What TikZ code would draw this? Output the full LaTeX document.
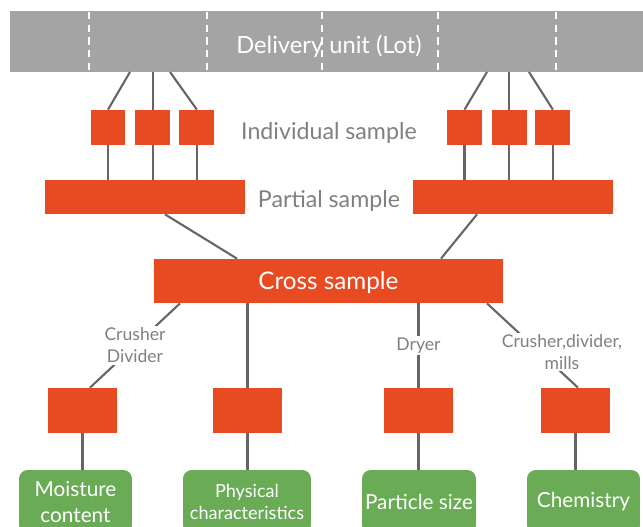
\documentclass[tikz,border=0pt]{standalone}
\usepackage{fontspec}
\setmainfont{Lato}
\usetikzlibrary{positioning}

\definecolor{sampleRed}{HTML}{E84A22}
\definecolor{lotGrey}{HTML}{A4A4A4}
\definecolor{wireGrey}{HTML}{666666}
\definecolor{labelGrey}{HTML}{808080}
\definecolor{testGreen}{HTML}{6AAB56}

\tikzset{
  sample/.style={rectangle, fill=sampleRed, inner sep=0pt},
  indiv/.style={sample, minimum width=0.7cm, minimum height=0.7cm},
  result/.style={sample, minimum width=1.38cm, minimum height=0.9cm},
  testbox/.style={rectangle, rounded corners=5pt, fill=testGreen, text=white, align=center, inner sep=0pt, minimum height=1.28cm},
  wire/.style={wireGrey, line width=1.2pt},
  caption/.style={text=labelGrey, text depth=0pt, font=\fontsize{13.2}{15}\selectfont},
  tool/.style={text=labelGrey, fill=white, align=center, inner sep=1pt, font=\fontsize{10}{12.5}\selectfont}
}

\begin{document}
\begin{tikzpicture}[x=0.02cm, y=-0.02cm]
    \useasboundingbox (0,0) rectangle (643,527);
    \clip (0,0) rectangle (643,527);

    % Delivery unit (lot)
    \node[rectangle, fill=lotGrey, minimum width=12.66cm, minimum height=1.22cm, inner sep=0pt] (lot) at (326.5,41.5) {};
    \foreach \x in {89,207,322,438,556}
        \draw[white, line width=1.4pt, dash pattern=on 4.2pt off 3pt] (\x,12) -- (\x,72);
    \node[text=white, text depth=0pt, font=\fontsize{13.5}{15}\selectfont] (lottext) at (329,44) {Delivery unit (Lot)};
    \foreach \x/\n in {130/a,170/c,487/d,529/f}
        \coordinate (lot-\n) at (\x,72);

    % Individual samples
    \node[indiv] (ind1) at (108,127.5) {};
    \node[indiv, right=0.18cm of ind1] (ind2) {};
    \node[indiv, right=0.17cm of ind2] (ind3) {};
    \node[indiv] (ind4) at (464.5,127.5) {};
    \node[indiv, right=0.18cm of ind4] (ind5) {};
    \node[indiv, right=0.16cm of ind5] (ind6) {};
    \node[caption] (indlabel) at (329,131) {Individual sample};

    \draw[wire] (lot-a) -- (ind1.north);
    \draw[wire] (lot.south -| ind2) -- (ind2.north);
    \draw[wire] (lot-c) -- (ind3.north);
    \draw[wire] (lot-d) -- (ind4.north);
    \draw[wire] (lot.south -| ind5) -- (ind5.north);
    \draw[wire] (lot-f) -- (ind6.north);

    % Partial samples
    \node[sample, minimum width=4cm, minimum height=0.68cm] (partL) at (145,197) {};
    \node[sample, minimum width=4cm, minimum height=0.68cm] (partR) at (513,197) {};
    \node[caption] (partlabel) at (329,199) {Partial sample};

    \foreach \i in {1,2,3}
        \draw[wire] (ind\i.south) -- (ind\i.south |- partL.north);
    \foreach \i in {4,5,6}
        \draw[wire] (ind\i.south) -- (ind\i.south |- partR.north);

    % Cross sample
    \node[sample, minimum width=6.98cm, minimum height=0.88cm, text=white, text depth=0pt, font=\fontsize{13.8}{15}\selectfont] (cross) at (328.5,281) {Cross sample};
    \draw[wire] ([xshift=0.4cm]partL.south) -- ([xshift=-1.83cm]cross.north);
    \draw[wire] ([xshift=-0.72cm]partR.south) -- ([xshift=2.25cm]cross.north);

    % Preparation
    \node[result] (moist) at (82.5,410.5) {};
    \node[result] (phys) at (247.5,410.5) {};
    \node[result] (size) at (418.5,410.5) {};
    \node[result] (chem) at (575.5,410.5) {};

    \draw[wire] ([xshift=-2.97cm]cross.south) -- node[tool] {Crusher\\Divider} ([xshift=0.15cm]moist.north);
    \draw[wire] (cross.south -| phys) -- (phys.north);
    \draw[wire] (cross.south -| size) -- node[tool] {Dryer} (size.north);
    \draw[wire] ([xshift=3.17cm]cross.south) -- ([xshift=0.05cm]chem.north);
    \node[tool] (mills) at (562,352) {Crusher,divider,\\mills};

    % Analyses
    \node[testbox, minimum width=2.26cm, font=\fontsize{11.8}{14.7}\selectfont] (moisttest) at (75.5,502) {Moisture\\content};
    \node[testbox, minimum width=2.56cm, font=\fontsize{10.3}{12.5}\selectfont] (phystest) at (247,502) {Physical\\characteristics};
    \node[testbox, minimum width=2.28cm, font=\fontsize{11.8}{14}\selectfont] (sizetest) at (419,502) {Particle size};
    \node[testbox, minimum width=2.26cm, font=\fontsize{11.8}{14}\selectfont] (chemtest) at (583.5,502) {Chemistry};

    \draw[wire] (moist.south) -- (moist.south |- moisttest.north);
    \draw[wire] (phys.south) -- (phys.south |- phystest.north);
    \draw[wire] (size.south) -- (size.south |- sizetest.north);
    \draw[wire] (chem.south) -- (chem.south |- chemtest.north);
\end{tikzpicture}
\end{document}
